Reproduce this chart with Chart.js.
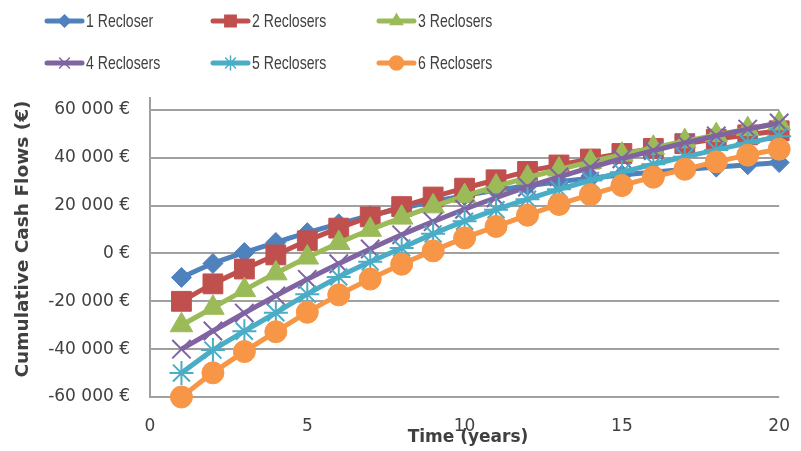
<!DOCTYPE html>
<html>
<head>
<meta charset="utf-8">
<script src="https://cdn.jsdelivr.net/npm/chart.js@4/dist/chart.umd.min.js"></script>
<style>
  body { margin: 0; background: #fff; }
  #wrap { width: 801px; height: 451px; }
</style>
</head>
<body>
<div id="wrap"><canvas id="chart" width="801" height="451"></canvas></div>
<script>
// years on the x axis
const years = [1, 2, 3, 4, 5, 6, 7, 8, 9, 10, 11, 12, 13, 14, 15, 16, 17, 18, 19, 20];
const xTicks = [0, 5, 10, 15, 20];
const yTicks = [-60000, -40000, -20000, 0, 20000, 40000, 60000];

// cumulative cash flows (€)
const oneRecloser = [-10000, -4200, 400, 4600, 8700, 12400, 15800, 18900, 21700, 24200,
    26400, 28300, 30000, 31500, 32800, 34000, 35100, 36100, 37100, 38000];
const twoReclosers = [-20000, -12700, -6500, -600, 5300, 10600, 15300, 19600, 23600, 27300,
    30800, 34300, 37000, 39500, 41800, 43900, 45900, 47800, 49600, 51300];
const threeReclosers = [-30000, -22700, -15300, -8300, -1700, 4400, 9900, 15000, 19700, 24000,
    28000, 31700, 35100, 38300, 41300, 44200, 46900, 49500, 52000, 54400];
const fourReclosers = [-40000, -32400, -24900, -17700, -10800, -4300, 1900, 7800, 13300, 18500,
    23300, 27800, 32000, 35900, 39600, 43000, 46200, 49200, 52000, 54600];
const fiveReclosers = [-50000, -40400, -32500, -24800, -17000, -9800, -3500, 2300, 8200, 13500,
    18300, 22700, 26800, 30500, 34000, 37300, 40400, 43300, 46200, 49000];
const sixReclosers = [-60000, -49900, -41000, -32700, -24600, -17300, -10700, -4500, 1100, 6500,
    11300, 16000, 20500, 24600, 28400, 31900, 35200, 38300, 41100, 43600];

const seriesNames = ['1 Recloser', '2 Reclosers', '3 Reclosers', '4 Reclosers', '5 Reclosers', '6 Reclosers'];
const seriesValues = [oneRecloser, twoReclosers, threeReclosers, fourReclosers, fiveReclosers, sixReclosers];

const colors = ['#4F81BD', '#C0504D', '#9BBB59', '#8064A2', '#4BACC6', '#F79646'];
const markers = ['rectRot', 'rect', 'triangle', 'crossRot', 'star', 'circle'];
const markerSize = [10, 14, 13, 13, 12, 11];
const legendMarkerSize = [6, 8, 7, 7, 7, 7];

const textColor = '#404040';
const gridColor = '#A0A0A0';

// legend and axis titles drawn Excel-style
const excelBits = {
    id: 'excelBits',
    afterDraw(chart) {
        const ctx = chart.ctx;
        const colX = [47, 213, 379];
        const rowY = [21, 63];
        chart.data.datasets.forEach((ds, i) => {
            const x0 = colX[i % 3];
            const y = rowY[Math.floor(i / 3)];
            ctx.save();
            ctx.strokeStyle = ds.borderColor;
            ctx.fillStyle = ds.borderColor;
            ctx.lineWidth = 5;
            ctx.lineCap = 'round';
            ctx.beginPath();
            ctx.moveTo(x0, y);
            ctx.lineTo(x0 + 35, y);
            ctx.stroke();
            ctx.lineWidth = 1.5;
            if (Chart.helpers && Chart.helpers.drawPoint) {
                Chart.helpers.drawPoint(ctx, {
                    pointStyle: ds.pointStyle, rotation: 0,
                    radius: legendMarkerSize[i], borderWidth: 1.5
                }, x0 + 17.5, y);
            }
            ctx.translate(x0 + 39, y + 1);
            ctx.scale(0.74, 1);
            ctx.font = '19px "Liberation Sans", Arial, sans-serif';
            ctx.fillStyle = textColor;
            ctx.textBaseline = 'middle';
            ctx.textAlign = 'left';
            ctx.fillText(ds.label, 0, 0);
            ctx.restore();
        });

        ctx.save();
        ctx.fillStyle = textColor;
        ctx.font = 'bold 17px "DejaVu Sans", sans-serif';
        ctx.textAlign = 'center';
        ctx.textBaseline = 'middle';
        ctx.fillText('Time (years)', 468, 438);
        ctx.translate(23, 239);
        ctx.rotate(-Math.PI / 2);
        ctx.font = 'bold 18.5px "DejaVu Sans", sans-serif';
        ctx.fillText('Cumulative Cash Flows (€)', 0, 0);
        ctx.restore();
    }
};

new Chart(document.getElementById('chart'), {
    type: 'line',
    data: {
        labels: years,
        datasets: seriesNames.map((name, i) => ({
            label: name,
            data: years.map((year, j) => ({ x: year, y: seriesValues[i][j] })),
            borderColor: colors[i],
            backgroundColor: colors[i],
            borderWidth: 5,
            tension: 0.3,
            pointStyle: markers[i],
            pointRadius: markerSize[i],
            pointHoverRadius: markerSize[i],
            pointBorderWidth: (markers[i] === 'crossRot' || markers[i] === 'star') ? 2 : 1,
            pointBackgroundColor: colors[i],
            pointBorderColor: colors[i],
            order: 6 - i,
            clip: false
        }))
    },
    options: {
        responsive: false,
        animation: false,
        events: [],
        layout: { padding: { top: 98, right: 13, left: 0, bottom: 0 } },
        plugins: {
            legend: { display: false },
            tooltip: { enabled: false }
        },
        scales: {
            x: {
                type: 'linear',
                min: 0,
                max: 20,
                grid: { display: false },
                border: { display: false },
                ticks: {
                    padding: 11,
                    color: textColor,
                    font: { family: '"DejaVu Sans", sans-serif', size: 17 }
                },
                afterBuildTicks: function(scale) {
                    scale.ticks = xTicks.map(v => ({ value: v }));
                },
                afterFit: function(scale) { scale.height = 54; }
            },
            y: {
                min: -60000,
                max: 65000,
                grid: { color: gridColor, lineWidth: 2, drawTicks: false },
                border: { display: true, color: gridColor, width: 2 },
                ticks: {
                    padding: 20,
                    color: textColor,
                    font: { family: '"DejaVu Sans", sans-serif', size: 17 },
                    callback: function(value) {
                        if (value === 0) return '0 €';
                        return (value / 1000) + ' 000 €';
                    }
                },
                afterBuildTicks: function(scale) {
                    scale.ticks = yTicks.map(v => ({ value: v }));
                },
                afterFit: function(scale) { scale.width = 150; }
            }
        }
    },
    plugins: [excelBits]
});
</script>
</body>
</html>
